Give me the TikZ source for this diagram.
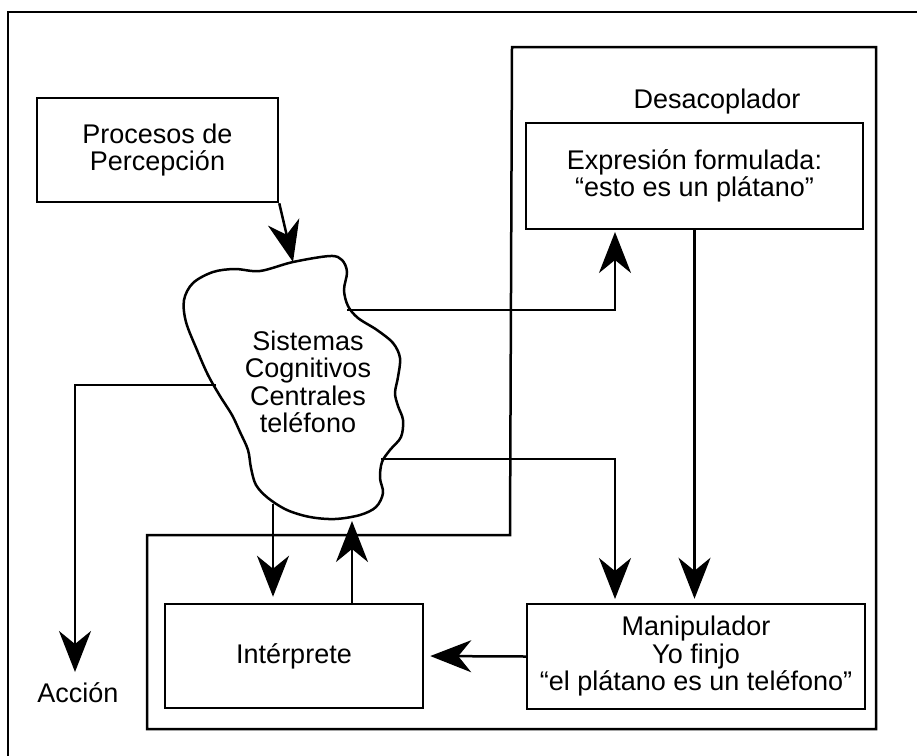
\documentclass[tikz,border=0pt]{standalone}
\usepackage{fontspec}
\setmainfont{Liberation Sans}
\usetikzlibrary{arrows.meta}
\begin{document}
\begin{tikzpicture}[x=1pt,y=-1pt, line width=2.5pt,
  box/.style={draw, line width=2.5pt, align=center, inner sep=0pt},
  lbl/.style={align=center, inner sep=0pt},
  arr/.style={-{Stealth[length=41pt,width=32pt,inset=13pt]}, line width=2.5pt},
  every node/.style={font=\fontsize{27}{27.5}\selectfont}]
\useasboundingbox (0,0) rectangle (917,755);
% outer frame (partly visible)
\draw (940,12) -- (8,12) -- (8,780);
% desacoplador frame
\draw (512,47) -- (876,47) -- (876,729) -- (147,729) -- (147,535) -- (510,535) -- cycle;
\node[lbl] (desac) at (717,102) {Desacoplador};
% boxes
\node[box, minimum width=241pt, minimum height=104pt] (procesos) at (157.5,150) {Procesos de\\Percepción};
\node[box, minimum width=337pt, minimum height=106pt] (expresion) at (694.5,176) {Expresión formulada:\\“esto es un plátano”};
\node[box, minimum width=338pt, minimum height=105pt] (manip) at (696,656.5) {Manipulador\\Yo finjo\\“el plátano es un teléfono”};
\node[box, minimum width=258pt, minimum height=104pt] (interp) at (294,656) {Intérprete};
\node[lbl] (accion) at (78,693) {Acción};
% blob
\draw[line width=2.5pt] plot[smooth cycle, tension=0.55] coordinates {
 (193,283) (213,272) (235,269) (260,271) (293,262) (330,256) (342,260) (347,272)
 (344,290) (348,306) (358,318) (377,330) (393,343) (400,358) (398,377) (395,393)
 (398,406) (403,420) (401,437) (390,450) (382,462) (380,478) (383,493) (376,507)
 (360,515) (335,519) (310,517) (287,510) (268,498) (256,485) (251,468) (248,450)
 (240,432) (232,415) (220,396) (208,375) (197,350) (186,322) (184,300)};
\node[lbl] (blob) at (308,382) {Sistemas\\Cognitivos\\Centrales\\teléfono};
% connection points on the blob
\coordinate (bt) at (293,262);
\coordinate (br1) at (347,310);
\coordinate (br2) at (381,459);
\coordinate (bl) at (216,385);
\coordinate (bb1) at (273,504);
\coordinate (bb2) at (352,521);
\coordinate (ein) at (615,232);
\coordinate (min) at (615,599);
\coordinate (acc) at (75,672);
% connectors
\draw[arr] (procesos.south east) -- (bt);
\draw[arr] (br1) -| (ein);
\draw[arr, shorten >=4pt] (expresion.south) -- (expresion.south |- manip.north);
\draw[arr] (br2) -| (min);
\draw[arr] (bl) -| (acc);
\draw[arr, shorten >=6pt] (bb1) -- (bb1 |- interp.north);
\draw[arr] (interp.north -| bb2) -- (bb2);
\draw[arr, shorten >=6pt] (manip.west) -- (interp.east);
\end{tikzpicture}
\end{document}
